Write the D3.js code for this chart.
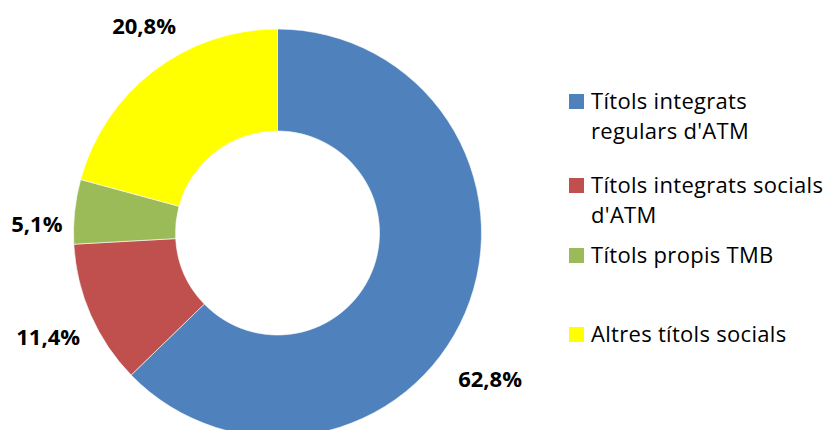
<!doctype html>
<html lang="ca">
<head>
<meta charset="utf-8">
<script src="https://cdn.jsdelivr.net/npm/d3@7"></script>
<style>
	body{
		margin:0px;
		padding:0px;
		background:#fff;
	}
	text{
		font-family:"Open Sans", sans-serif;
	}
</style>
</head>
<body>
<svg id="chartSvg"></svg>
<script>
// chart data
var categories = ["Títols integrats regulars d'ATM", "Títols integrats socials d'ATM", "Títols propis TMB", "Altres títols socials"];
var legendLines = [["Títols integrats", "regulars d'ATM"], ["Títols integrats socials", "d'ATM"], ["Títols propis TMB"], ["Altres títols socials"]];
var values = [62.8, 11.4, 5.1, 20.8];
var valueLabels = ["62,8%", "11,4%", "5,1%", "20,8%"];
var colors = ["#4f81bd", "#c0504d", "#9bbb59", "#ffff00"];

var width = 831;
var height = 430;
var cx = 277.5;
var cy = 233;
var outerR = 204;
var innerR = 102;

var svg = d3.select("#chartSvg").attr("width", width).attr("height", height);

var pie = d3.pie().sort(null).value(function(d){return d;});
var arcs = pie(values);

var arc = d3.arc().innerRadius(innerR).outerRadius(outerR);

var g = svg.append("g").attr("transform", "translate("+cx+","+cy+")");

g.selectAll("path")
	.data(arcs)
	.enter()
	.append("path")
	.attr("d", arc)
	.attr("fill", function(d, i){return colors[i];})
	.attr("stroke", "#fff")
	.attr("stroke-width", 0.6);

// percent labels outside the ring (baseline placed)
var labelArc = d3.arc().innerRadius(246).outerRadius(246);
// excel "best fit" shifts, the big slice label drops below
var nudge = [[-14, 58], [-4, 13], [4, 25], [16, -4]];
g.selectAll("text.lbl")
	.data(arcs)
	.enter()
	.append("text")
	.attr("class", "lbl")
	.attr("x", function(d, i){return labelArc.centroid(d)[0] + nudge[i][0];})
	.attr("y", function(d, i){return labelArc.centroid(d)[1] + nudge[i][1];})
	.attr("text-anchor", "middle")
	.attr("font-size", 22)
	.attr("font-weight", "bold")
	.attr("fill", "#000")
	.text(function(d, i){return valueLabels[i];});

// legend
var legendY = [109, 193, 263, 342];
var legend = svg.append("g");
for(var i=0;i<categories.length;i++){
	legend.append("rect")
		.attr("x", 569)
		.attr("y", legendY[i]-15)
		.attr("width", 15)
		.attr("height", 15)
		.attr("fill", colors[i]);
	// one text per line so wrapped lines stay apart
	for(var j=0;j<legendLines[i].length;j++){
		legend.append("text")
			.attr("x", 591)
			.attr("y", legendY[i] + j*30)
			.attr("font-size", 22)
			.attr("letter-spacing", 0.3)
			.attr("fill", "#000")
			.text(legendLines[i][j]);
	}
}
</script>
</body>
</html>
